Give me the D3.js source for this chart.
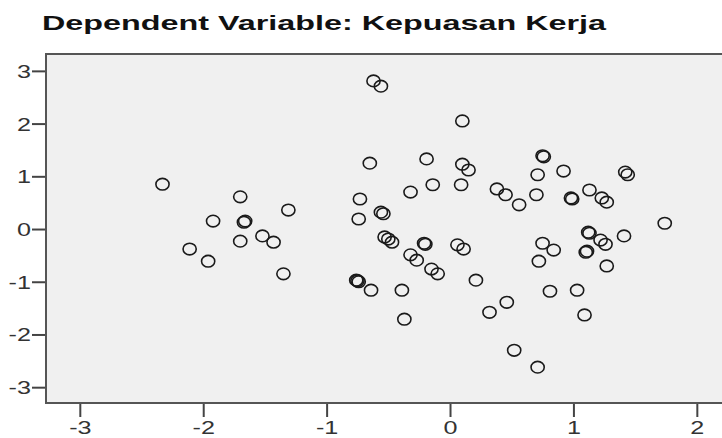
<!DOCTYPE html>
<html>
<head>
<meta charset="utf-8">
<script src="https://cdn.jsdelivr.net/npm/d3@7"></script>
<style>
  body { margin: 0; background: #fff; }
  svg { display: block; }
</style>
</head>
<body>
<div id="chart"></div>
<script>
// standardized predicted value (x) vs standardized residual (y)
var predicted = [
  -2.33, -1.70, -1.31, -1.92, -1.67, -1.66, -2.11, -1.96, -1.70, -1.52, -1.43, -1.35,
  -0.62, -0.56, 0.10, -0.65, -0.19, 0.10, 0.15, -0.32, -0.14, 0.09, 0.38, 0.45, 0.56, 0.75,
  0.76, 0.71, 0.92, 0.70, 0.99, 0.98, 1.13, 1.23, 1.27, 1.42, 1.44, 1.74,
  -0.73, -0.74, -0.56, -0.54, -0.53, -0.50, -0.47, -0.21, -0.20, -0.32, -0.27, -0.15, -0.10,
  0.06, 0.11, 0.21, -0.76, -0.75, -0.74, -0.64, -0.39, -0.37, 0.32, 0.46, 0.52, 0.71,
  0.75, 0.84, 0.72, 0.81, 1.03, 1.09, 1.12, 1.13, 1.22, 1.26, 1.41, 1.27, 1.10, 1.11
];
var residual = [
  0.85, 0.61, 0.36, 0.15, 0.13, 0.15, -0.38, -0.61, -0.23, -0.13, -0.25, -0.85,
  2.81, 2.71, 2.05, 1.25, 1.33, 1.23, 1.12, 0.70, 0.84, 0.84, 0.76, 0.65, 0.46, 1.39,
  1.37, 1.03, 1.10, 0.65, 0.57, 0.59, 0.74, 0.59, 0.51, 1.08, 1.03, 0.11,
  0.57, 0.19, 0.32, 0.29, -0.15, -0.19, -0.25, -0.27, -0.29, -0.49, -0.59, -0.76, -0.85,
  -0.30, -0.38, -0.97, -0.97, -0.98, -1.00, -1.16, -1.16, -1.71, -1.58, -1.39, -2.30, -2.62,
  -0.27, -0.40, -0.61, -1.18, -1.16, -1.63, -0.06, -0.08, -0.21, -0.29, -0.13, -0.70, -0.44, -0.42
];
var xTicks = [-3, -2, -1, 0, 1, 2];
var yTicks = [-3, -2, -1, 0, 1, 2, 3];
var title = "Dependent Variable: Kepuasan Kerja";

var width = 722, height = 438;
var stretch = 1.4; // the source picture is stretched sideways

var x = d3.scaleLinear().domain([-3.274, 2.204]).range([46, 722]);
var y = d3.scaleLinear().domain([-3.30, 3.32]).range([403, 54]);

var svg = d3.select("#chart")
  .append("svg")
    .attr("width", width)
    .attr("height", height);

svg.append("text")
    .attr("x", 42)
    .attr("y", 30)
    .attr("textLength", 564)
    .attr("lengthAdjust", "spacingAndGlyphs")
    .style("font-family", "'Liberation Sans', Arial, sans-serif")
    .style("font-weight", "bold")
    .style("font-size", "21px")
    .style("fill", "#111")
    .text(title);

svg.append("rect")
    .attr("x", x.range()[0])
    .attr("y", y.range()[1])
    .attr("width", x.range()[1] - x.range()[0])
    .attr("height", y.range()[0] - y.range()[1])
    .attr("fill", "#f0f0f0");

svg.append("g")
    .attr("class", "points")
  .selectAll("ellipse")
    .data(d3.zip(predicted, residual))
  .enter().append("ellipse")
    .attr("cx", function(d) { return x(d[0]); })
    .attr("cy", function(d) { return y(d[1]); })
    .attr("rx", 6.6)
    .attr("ry", 5.8)
    .attr("fill", "none")
    .attr("stroke", "#1a1a1a")
    .attr("stroke-width", 1.6);

// frame: left, top, bottom
svg.append("path")
    .attr("d", "M" + x.range()[1] + "," + y.range()[1] + "H" + x.range()[0] +
               "V" + y.range()[0] + "H" + x.range()[1])
    .attr("fill", "none")
    .attr("stroke", "#555")
    .attr("stroke-width", 2);

var xAxis = svg.append("g")
    .attr("transform", "translate(0," + (y.range()[0] + 1) + ")")
    .call(d3.axisBottom(x).tickValues(xTicks).tickSize(13).tickSizeOuter(0)
      .tickFormat(function(d) { return d < 0 ? "-" + Math.abs(d) : d; }));

var yAxis = svg.append("g")
    .attr("transform", "translate(" + (x.range()[0] - 1) + ",0)")
    .call(d3.axisLeft(y).tickValues(yTicks).tickSize(13).tickSizeOuter(0)
      .tickFormat(function(d) { return d < 0 ? "-" + Math.abs(d) : d; }));

[xAxis, yAxis].forEach(function(g) {
  g.select(".domain").remove();
  g.selectAll(".tick line").attr("stroke", "#444").attr("stroke-width", 2);
  g.selectAll(".tick text")
      .style("font-family", "'Liberation Sans', Arial, sans-serif")
      .style("font-size", "18px")
      .attr("fill", "#333");
});

xAxis.selectAll(".tick text")
    .attr("y", 0)
    .attr("dy", 0)
    .attr("transform", "translate(0,30) scale(" + stretch + ",1)");

yAxis.selectAll(".tick text")
    .attr("x", 0)
    .attr("dy", "0.36em")
    .attr("transform", "translate(-14,0) scale(" + stretch + ",1)");
</script>
</body>
</html>
